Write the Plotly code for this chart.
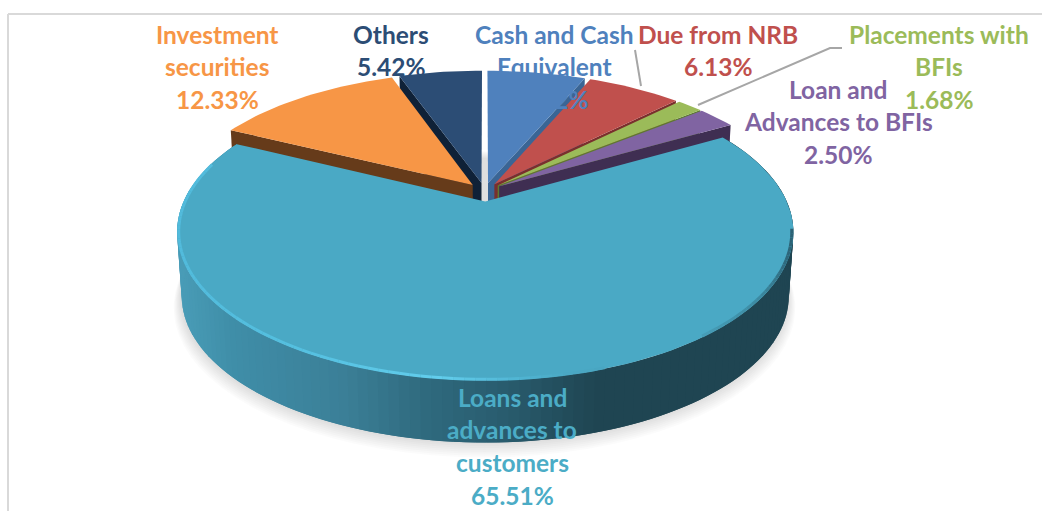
import math
import plotly.graph_objects as go

CATEGORIES = ["Cash and Cash\nEquivalent", "Due from NRB", "Placements with\nBFIs",
              "Loan and\nAdvances to BFIs", "Loans and\nadvances to\ncustomers",
              "Investment\nsecurities", "Others"]
VALUES = [6.42, 6.13, 1.68, 2.50, 65.51, 12.33, 5.42]
VALUE_LABELS = ["6.42%", "6.13%", "1.68%", "2.50%", "65.51%", "12.33%", "5.42%"]
TOP_COLORS = ["#4f81bd", "#c0504d", "#9bbb59", "#8064a2", "#4aa9c5", "#f79646", "#2c4d75"]
TEXT_COLORS = ["#4f81bd", "#c0504d", "#9bbb59", "#8064a2", "#4bacc6", "#f79646", "#2c4d75"]
WALL_COLORS = ["#3a6595", "#7a2f2d", "#5c7a30", "#3f2e52", None, "#663b1a", "#0f2137"]
EXPLODES = [0.06, 0.06, 0.06, 0.06, 0.075, 0.06, 0.06]
LABEL_X = [554, 718, 939, 838, 512, 217, 391]
LABEL_Y = [34, 34, 34, 89, 397, 34, 34]
LINE_PITCH = 32.7
FONT = "Lato"
FONT_SIZE = 24.5

X0, Y0, R, B, K = 484.5, 191.0, 297.0, 137.9, 0.2023
DEPTH, BOTTOM_SCALE = 65.0, 0.985


def proj(u, v, s=1.0, dy=0.0):
    w = 1 - K * v
    return X0 + s * R * u / w, Y0 + dy + s * B * v / w


def hex2rgb(h):
    return [int(h[i:i + 2], 16) for i in (1, 3, 5)]


def ramp(stops, x):
    if x <= stops[0][0]:
        return stops[0][1]
    for (a, ca), (b, cb) in zip(stops, stops[1:]):
        if x <= b:
            t = (x - a) / (b - a)
            c = [round(p + (q - p) * t) for p, q in zip(hex2rgb(ca), hex2rgb(cb))]
            return "rgb(%d,%d,%d)" % tuple(c)
    return stops[-1][1]


WALL_RAMP = [(177, "#4a9db8"), (230, "#3f8ea8"), (340, "#3b7f97"), (420, "#2f6a7e"),
             (500, "#295c6e"), (590, "#1f4552"), (800, "#1f4552")]
RIM_RAMP = [(177, "#52bbdc"), (300, "#55c0e0"), (440, "#62cdec"), (520, "#50b4d2"),
            (570, "#4aa8c4"), (700, "#479fb9"), (760, "#3c8aa2"), (792, "#2c6275")]

fig = go.Figure()


def poly(xs, ys, color):
    fig.add_trace(go.Scatter(x=xs, y=ys, mode="lines", fill="toself", fillcolor=color,
                             line=dict(color=color, width=0), hoverinfo="skip",
                             showlegend=False))


total = sum(VALUES)
spans, acc = [], 0.0
for val in VALUES:
    spans.append((acc / total * 360, (acc + val) / total * 360))
    acc += val


def slice_geom(i):
    a, b = spans[i]
    mid = math.radians((a + b) / 2)
    e = EXPLODES[i]
    cu, cv = e * math.sin(mid), -e * math.cos(mid)
    n = max(6, int((b - a) / 1.5))
    th = [math.radians(a + (b - a) * j / n) for j in range(n + 1)]
    return cu, cv, th


# soft shadow under the disc
for layer in range(1, 9):
    cu, cv = 0.0, EXPLODES[4]
    pts = [proj(cu + math.sin(math.radians(t)), cv - math.cos(math.radians(t)),
                BOTTOM_SCALE + 0.003 * layer, DEPTH + 1.3 * layer) for t in range(0, 361, 4)]
    poly([p[0] for p in pts], [p[1] for p in pts], "rgba(0,0,0,0.014)")

# small slices, back to front: (index, which radial edge shows its cut wall)
for i, edge in [(0, 1), (1, 1), (2, 1), (3, 1), (6, 0), (5, 0)]:
    cu, cv, th = slice_geom(i)
    t = th[-1] if edge else th[0]
    ou, ov = cu + math.sin(t), cv - math.cos(t)
    quad = [proj(cu, cv), proj(ou, ov), proj(ou, ov, BOTTOM_SCALE, DEPTH), proj(cu, cv, BOTTOM_SCALE, DEPTH)]
    poly([p[0] for p in quad], [p[1] for p in quad], WALL_COLORS[i])
    pts = [proj(cu, cv)] + [proj(cu + math.sin(x), cv - math.cos(x)) for x in th]
    poly([p[0] for p in pts], [p[1] for p in pts], TOP_COLORS[i])

# the large front slice: gradient side wall, top face, bevel rim
cu, cv, _ = slice_geom(4)
a, b = spans[4]
n = 140
th = [math.radians(a + (b - a) * j / n) for j in range(n + 1)]
for j in range(n):
    j2 = min(j + 2, n)  # strips overlap so no seams show
    p = [proj(cu + math.sin(th[j]), cv - math.cos(th[j])),
         proj(cu + math.sin(th[j2]), cv - math.cos(th[j2])),
         proj(cu + math.sin(th[j2]), cv - math.cos(th[j2]), BOTTOM_SCALE, DEPTH),
         proj(cu + math.sin(th[j]), cv - math.cos(th[j]), BOTTOM_SCALE, DEPTH)]
    xm = (p[0][0] + p[2][0]) / 2
    poly([q[0] for q in p], [q[1] for q in p], ramp(WALL_RAMP, xm))
pts = [proj(cu, cv)] + [proj(cu + math.sin(x), cv - math.cos(x)) for x in th]
poly([p[0] for p in pts], [p[1] for p in pts], TOP_COLORS[4])
for j in range(n):
    deg = a + (b - a) * j / n
    if not (100 <= deg <= 285):
        continue
    rr = 0.995
    p = [proj(cu + rr * math.sin(th[j]), cv - rr * math.cos(th[j])),
         proj(cu + rr * math.sin(th[j + 1]), cv - rr * math.cos(th[j + 1]))]
    xm = (p[0][0] + p[1][0]) / 2
    if xm < 600 or xm > 700:
        fig.add_trace(go.Scatter(x=[p[0][0], p[1][0]], y=[p[0][1], p[1][1]], mode="lines",
                                 line=dict(color=ramp(RIM_RAMP, xm), width=3), hoverinfo="skip",
                                 showlegend=False))

# leader lines
LEADER_X = [[635, 641], [698, 830, 842]]
LEADER_Y = [[50, 86], [105, 48, 48]]
for lx, ly in zip(LEADER_X, LEADER_Y):
    fig.add_trace(go.Scatter(x=lx, y=ly, mode="lines", line=dict(color="#a6a6a6", width=2),
                             hoverinfo="skip", showlegend=False))

# labels
annotations = []
for name, pct, x, y, col in zip(CATEGORIES, VALUE_LABELS, LABEL_X, LABEL_Y, TEXT_COLORS):
    for k, line in enumerate(name.split("\n") + [pct]):
        annotations.append(dict(x=x, y=y + k * LINE_PITCH, text=line, showarrow=False, xref="x", yref="y",
                                xanchor="center", yanchor="middle",
                                font=dict(family=FONT, size=FONT_SIZE, color=col, weight="bold")))

fig.update_layout(
    width=1042, height=511, margin=dict(l=0, r=0, t=0, b=0),
    paper_bgcolor="white", plot_bgcolor="white", showlegend=False,
    xaxis=dict(range=[0, 1042], visible=False, fixedrange=True),
    yaxis=dict(range=[511, 0], visible=False, fixedrange=True),
    annotations=annotations,
    shapes=[
        dict(type="line", xref="x", yref="y", x0=8, x1=1042, y0=14, y1=14, line=dict(color="#d9d9d9", width=2)),
        dict(type="line", xref="x", yref="y", x0=8, x1=8, y0=14, y1=511, line=dict(color="#d9d9d9", width=2)),
    ],
)
fig.write_html("out.html", config=dict(displayModeBar=False), post_script="document.body.style.margin='0';")
